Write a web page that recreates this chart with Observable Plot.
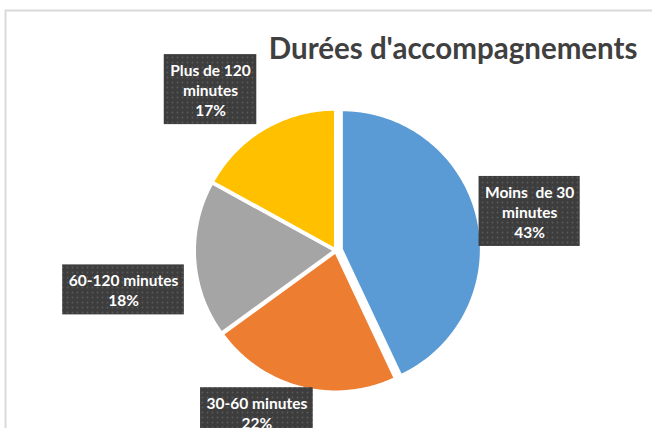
<!DOCTYPE html>
<html><head><meta charset="utf-8">
<script src="https://cdn.jsdelivr.net/npm/d3@7"></script>
<script src="https://cdn.jsdelivr.net/npm/@observablehq/plot@0.6"></script>
<style>html,body{margin:0;padding:0;background:#fff;} #chart svg{display:block;overflow:hidden} #chart text{white-space:pre}</style>
</head><body><div id="chart"></div>
<script>
// ---- data ----
const categories = ["Moins de 30 minutes", "30-60 minutes", "60-120 minutes", "Plus de 120 minutes"];
const labelLines = [["Moins  de 30", "minutes"], ["30-60 minutes"], ["60-120 minutes"], ["Plus de 120", "minutes"]];
const values = [43, 22, 18, 17];
const percentLabels = ["43%", "22%", "18%", "17%"];
const colors = ["#5B9BD5", "#ED7D31", "#A5A5A5", "#FFC000"];
const title = "Durées d'accompagnements";

// ---- layout ----
const W = 652, H = 428, MT = 10, ML = 5;
const CX = 335.5, CY = 250, R = 139;
const explodePx = [6, 2, 2, 2];
const labelDist = 1.42;
const labelNudge = [[1, 4], [-30, -29], [-15.5, 27], [-25, 9]];
const FS = 15.5, LH = 20, PADX = 6, PADY = 5;
const FONT = "Lato";

const total = d3.sum(values);
const ctx = document.createElement("canvas").getContext("2d");
ctx.font = `bold ${FS}px ${FONT}`;

let acc = 0;
const slices = categories.map((c, i) => {
  const a0 = acc / total * 2 * Math.PI;
  acc += values[i];
  const a1 = acc / total * 2 * Math.PI;
  const mid = (a0 + a1) / 2;
  const o = explodePx[i] / R;
  return {c, i, a0, a1, mid, ox: o * Math.sin(mid), oy: o * Math.cos(mid)};
});

const pts = [];
for (const s of slices) {
  pts.push({key: s.c, color: colors[s.i], x: s.ox, y: s.oy});
  const n = Math.max(8, Math.ceil((s.a1 - s.a0) / (Math.PI / 180)));
  for (let k = 0; k <= n; k++) {
    const t = s.a0 + (s.a1 - s.a0) * k / n;
    pts.push({key: s.c, color: colors[s.i], x: s.ox + Math.sin(t), y: s.oy + Math.cos(t)});
  }
  pts.push({key: s.c, color: colors[s.i], x: s.ox, y: s.oy});
}

const labels = slices.map(s => {
  const lines = [...labelLines[s.i], percentLabels[s.i]];
  const tw = d3.max(lines, l => ctx.measureText(l).width);
  const bw = tw + 2 * PADX, bh = lines.length * LH + 2 * PADY;
  const x = labelDist * Math.sin(s.mid) + labelNudge[s.i][0] / R;
  const y = labelDist * Math.cos(s.mid) - labelNudge[s.i][1] / R;
  return {text: lines.join("\n"), x, y, x1: x - bw / 2 / R, x2: x + bw / 2 / R, y1: y - bh / 2 / R, y2: y + bh / 2 / R};
});

function defsMark() {
  const defs = d3.create("svg:defs");
  const p = defs.append("pattern").attr("id", "dots").attr("width", 5).attr("height", 5).attr("patternUnits", "userSpaceOnUse");
  p.append("rect").attr("width", 5).attr("height", 5).attr("fill", "#3d3d3d");
  p.append("circle").attr("cx", 2.5).attr("cy", 2.5).attr("r", 0.9).attr("fill", "#5a5a5a");
  return defs.node();
}

const chart = Plot.plot({
  width: W, height: H,
  marginTop: MT, marginLeft: ML, marginRight: 0, marginBottom: 0,
  x: {domain: [(ML - CX) / R, (W - CX) / R], axis: null},
  y: {domain: [(CY - H) / R, (CY - MT) / R], axis: null},
  color: {type: "identity"},
  style: {fontFamily: FONT, background: "#fff"},
  marks: [
    defsMark,
    Plot.frame({stroke: "#d9d9d9", strokeWidth: 2, insetRight: -6, insetBottom: -6}),
    Plot.line(pts, {x: "x", y: "y", z: "key", fill: "color", stroke: "white", strokeWidth: 2, strokeLinejoin: "round", curve: "linear"}),
    Plot.rect(labels, {x1: "x1", x2: "x2", y1: "y1", y2: "y2", fill: "url(#dots)"}),
    Plot.text(labels, {x: "x", y: "y", text: "text", fill: "white", fontWeight: "bold", fontSize: FS, fontFamily: FONT, lineHeight: LH / FS}),
    Plot.text([title], {frameAnchor: "top-right", dx: -15, dy: 28, lineAnchor: "top", text: d => d, fill: "#404040", fontWeight: "bold", fontSize: 29.5, fontFamily: FONT})
  ]
});
document.getElementById("chart").append(chart);
</script></body></html>
